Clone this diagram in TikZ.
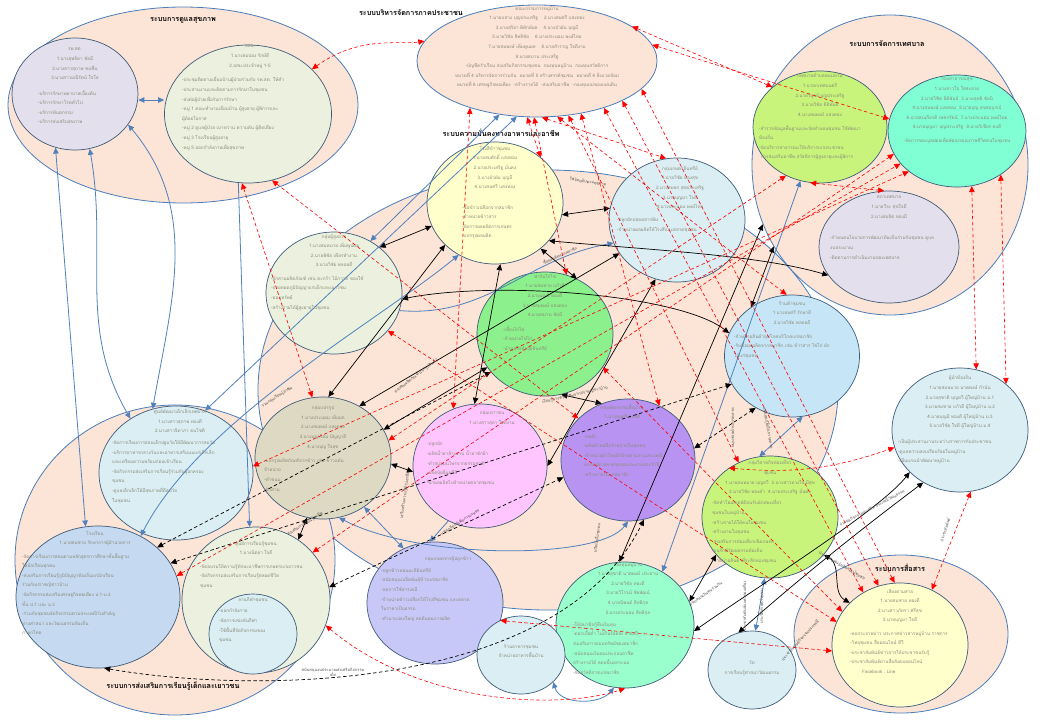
\documentclass[tikz,border=0pt]{standalone}
\usepackage{fontspec}
\newfontfamily\thai[Script=Thai]{Loma}
\usetikzlibrary{arrows.meta,shapes.geometric}
\definecolor{peach}{HTML}{FCE4D6}
\definecolor{sysline}{HTML}{4A7EBB}
\definecolor{cline}{HTML}{3E5C7A}
\definecolor{tgray}{HTML}{8A8A78}
\definecolor{blu}{HTML}{4F81BD}
\definecolor{cLav}{HTML}{E4DFEC}
\definecolor{cSage}{HTML}{EBF1DE}
\definecolor{cYel}{HTML}{FFFFCC}
\definecolor{cSky}{HTML}{DAEEF3}
\definecolor{cGreen}{HTML}{8CF08C}
\definecolor{cSky2}{HTML}{C6E6F8}
\definecolor{cTaupe}{HTML}{DDD9C3}
\definecolor{cPink}{HTML}{FFC5FF}
\definecolor{cPurp}{HTML}{B993F2}
\definecolor{cLime}{HTML}{C8F47C}
\definecolor{cPeri}{HTML}{C8C8F8}
\definecolor{cAqua}{HTML}{99FFCC}
\definecolor{cAqua2}{HTML}{80FFD4}
\definecolor{cBlue}{HTML}{C5D9F1}
\tikzset{
  sys/.style={ellipse, draw=sysline, fill=peach, line width=0.8pt, inner sep=0pt},
  circ/.style={ellipse, draw=cline, line width=0.7pt, inner sep=0pt},
  body/.style={font=\thai\fontsize{4.6}{9.6}\selectfont, text=tgray, inner sep=0pt},
  ttl/.style={font=\thai\bfseries\fontsize{7.2}{9}\selectfont, text=black, inner sep=0pt},
  lab/.style={font=\thai\fontsize{4}{5.2}\selectfont, text=black!70, inner sep=0.3pt, align=center},
  rd/.style={red, dash pattern=on 3.5pt off 2.5pt, line width=0.6pt, <->},
  bk/.style={black, line width=0.7pt, <->},
  bkd/.style={black, dash pattern=on 3.5pt off 2.5pt, line width=0.7pt, <->},
  bl/.style={blu, line width=0.8pt, <->},
}
\begin{document}
\begin{tikzpicture}[x=1pt,y=-1pt,>={Triangle[length=6pt,width=5.5pt]}]
\useasboundingbox (0,0) rectangle (1040,720);
\fill[white] (0,0) rectangle (1040,720);

% ---------- systems ----------
\node[sys, minimum width=580, minimum height=440] (SF) at (548,390) {};
\node[sys, minimum width=320, minimum height=310] (SL) at (175,560) {};
\node[sys, minimum width=350, minimum height=196] (SH) at (183,105) {};
\node[sys, minimum width=276, minimum height=300] (SM) at (890,165) {};
\node[sys, minimum width=240, minimum height=112] (SP) at (537,61) {};
\node[sys, minimum width=214, minimum height=158] (SC) at (901,634) {};

\node[ttl] (tSH) at (183,20) {ระบบการดูแลสุขภาพ};
\node[ttl] (tSP) at (411,13) {ระบบบริหารจัดการภาคประชาชน};
\node[ttl] (tSM) at (887,44) {ระบบการจัดการเทศบาล};
\node[ttl] (tSF) at (501,133) {ระบบความมั่นคงทางอาหารและอาชีพ};
\node[ttl] (tSC) at (900,568) {ระบบการสื่อสาร};
\node[ttl] (tSL) at (173,686) {ระบบการส่งเสริมการเรียนรู้เด็กและเยาวชน};

% ---------- circles ----------
\node[circ, fill=cLav,   minimum width=126, minimum height=112] (H1) at (75,94) {};
\node[circ, fill=cSage,  minimum width=167, minimum height=138] (H2) at (248,114) {};
\node[circ, fill=cLime,  minimum width=134, minimum height=112] (M1) at (820,127) {};
\node[circ, fill=cAqua2, minimum width=138, minimum height=112] (M2) at (957,131) {};
\node[circ, fill=cLav,   minimum width=140, minimum height=112] (M3) at (889,247) {};
\node[circ, fill=cYel,   minimum width=136, minimum height=122] (F1) at (495,203) {};
\node[circ, fill=cSky,   minimum width=136, minimum height=124] (F2) at (677,220) {};
\node[circ, fill=cSage,  minimum width=136, minimum height=122] (F3) at (334,293) {};
\node[circ, fill=cGreen, minimum width=136, minimum height=124] (F4) at (545,334) {};
\node[circ, fill=cSky2,  minimum width=135, minimum height=122] (F5) at (792,356) {};
\node[circ, fill=cTaupe, minimum width=136, minimum height=122] (F6) at (323,458) {};
\node[circ, fill=cPink,  minimum width=134, minimum height=124] (F7) at (480,466) {};
\node[circ, fill=cPurp,  minimum width=134, minimum height=122] (F8) at (628,460) {};
\node[circ, fill=cLime,  minimum width=136, minimum height=122] (F9) at (770,517) {};
\node[circ, fill=cPeri,  minimum width=136, minimum height=122] (F10) at (435,603) {};
\node[circ, fill=cAqua,  minimum width=138, minimum height=126] (F11) at (625,625) {};
\node[circ, fill=cSky,   minimum width=88,  minimum height=78]  (F12) at (521,655) {};
\node[circ, fill=cSky,   minimum width=88,  minimum height=78]  (F13) at (752,670) {};
\node[circ, fill=cSky,   minimum width=136, minimum height=124] (R1) at (960,430) {};
\node[circ, fill=cYel,   minimum width=136, minimum height=124] (C1) at (900,645) {};
\node[circ, fill=cSky,   minimum width=154, minimum height=134] (L1) at (176,473) {};
\node[circ, fill=cBlue,  minimum width=164, minimum height=142] (L2) at (98,597) {};
\node[circ, fill=cSage,  minimum width=148, minimum height=146] (L3) at (256,600) {};
\node[circ, fill=cSky,   minimum width=88,  minimum height=80]  (L4) at (253,634) {};

% ---------- texts ----------
\node[body, align=center, anchor=north] (H1a) at (75,48) {รพ.สต.\\1.นางสุทธิดา ชัยมี\\2.นางสาวสุภาพ ชมชื่น\\3.นางสาวมณีรัตน์ ใจใส};
\node[body, align=left, anchor=north west] (H1b) at (38,90) {-บริการรักษาพยาบาลเบื้องต้น\\-บริการรักษาโรคทั่วไป\\-บริการทันตกรรม\\-บริการส่งเสริมสุขภาพ};
\node[body, align=center, anchor=north] (H2a) at (250,45) {อสม.\\1.นางสมปอง รักษ์ดี\\2.อสม.ประจำหมู่ 1-5};
\node[body, align=left, anchor=north west] (H2b) at (182,77) {-ประชุมติดตามเยี่ยมบ้านผู้ป่วยร่วมกับ รพ.สต. ให้คำ\\-ประสานงานและติดตามการรักษาในชุมชน\\-ส่งต่อผู้ป่วยเพื่อรับการรักษา\\-หมู่ 1 คณะทำงานเยี่ยมบ้าน ผู้สูงอายุ ผู้พิการและ\\ผู้ด้อยโอกาส\\-หมู่ 2 ดูแลผู้ป่วย เบาหวาน ความดัน ผู้ติดเตียง\\-หมู่ 3 โรงเรียนผู้สูงอายุ\\-หมู่ 5 ออกกำลังกายเพื่อสุขภาพ};
\node[body, align=center, anchor=north] (SPa) at (537,6) {คณะกรรมการหมู่บ้าน\\1.นายแสวง บุญประเสริฐ \quad 2.นางสมศรี แสงทอง\\3.นายสุริยา พิทักษ์ผล \quad 4.นางบัวผัน บุญมี\\5.นายวิชัย สิทธิชัย \quad 6.นางประนอม พงษ์ไทย\\7.นายสมพงษ์ เพิ่มพูนผล \quad 8.นายสำราญ ใจดีงาม\\9.นายสมาน ประเสริฐ\\-บัญชีครัวเรือน ส่งเสริมกิจกรรมชุมชน \ กองทุนหมู่บ้าน \ กองทุนสวัสดิการ\\หมวดที่ 4 บริหารจัดการร่วมกัน \ หมวดที่ 5 สร้างสรรค์ชุมชน \ หมวดที่ 6 สิ่งแวดล้อม\\หมวดที่ 6 เศรษฐกิจพอเพียง \ -สร้างรายได้ \ -ส่งเสริมอาชีพ \ -กองทุนแม่ของแผ่นดิน};
\node[body, align=center, anchor=north] (M1a) at (820,74) {เทศบาลตำบลพนมทวน\\1.นายกเทศมนตรี\\2.นายวิบูลย์ บุญประเสริฐ\\3.นายวิชัย ธิติพันธ์\\4.นางสมพงษ์ แสงทอง};
\node[body, align=left, anchor=north west] (M1b) at (759,125) {-สำรวจข้อมูลพื้นฐานและจัดทำแผนชุมชน ใช้พัฒนา\\ท้องถิ่น\\-จัดบริการสาธารณะให้บริการแก่ประชาชน\\ \ การส่งเสริมอาชีพ สวัสดิการผู้สูงอายุและผู้พิการ};
\node[body, align=center, anchor=north] (M2a) at (957,78) {กองสาธารณสุข\\1.นางสาวใจ ใสสะอาด\\2.นายวิชิต ธิติพันธ์ \ 3.นายสุทธิ ชัยนิ\\4.นางสมพงษ์ แสงทอง \ 5.นายบุญ สุขสมบูรณ์\\6.นายสมเกียรติ เพชรรัตน์ \ 7.นางประนอม พงษ์ไทย\\8.นายบุญมา บุญประเสริฐ \ 9.นายวิเชียร คงดี\\[4pt]-จัดการขยะมูลฝอยเพื่อพัฒนาคุณภาพชีวิตคนในชุมชน};
\node[body, align=center, anchor=north] (M3a) at (889,196) {สภาเทศบาล\\1.นายวีระ สุขใจดี\\2.นางสมจิต ทองมี};
\node[body, align=left, anchor=north west] (M3b) at (830,235) {-กำหนดนโยบายการพัฒนาท้องถิ่นร่วมกับชุมชน ดูแล\\งบประมาณ\\-ติดตามการดำเนินงานของเทศบาล};
\node[body, align=center, anchor=north] (F1a) at (495,146) {โรงสีข้าวชุมชน\\1.นายสมศักดิ์ แสงทอง\\2.นายประเสริฐ มั่นคง\\3.นางบัวผัน บุญมี\\4.นางสมศรี แสงทอง};
\node[body, align=left, anchor=north west] (F1b) at (462,204) {-ซื้อข้าวเปลือกจากสมาชิก\\-จำหน่ายข้าวสาร\\-จัดการผลผลิตการเกษตร\\-แปรรูปผลผลิต};
\node[body, align=center, anchor=north] (F2a) at (680,166) {กลุ่มเกษตรอินทรีย์\\1.นายวิชัย ทองสุข\\2.นางสมพร สุขประเสริฐ\\3.นายบุญมา ใจดี\\4.นางประนอม พงษ์ไทย};
\node[body, align=left, anchor=north west] (F2b) at (617,218) {-ปลูกผักปลอดสารพิษ\\-จำหน่ายผลผลิตให้โรงสีและตลาดชุมชน};
\node[body, align=center, anchor=north] (F3a) at (334,234) {กลุ่มผู้สูงอายุ\\1.นางสมหมาย เพิ่มพูนผล\\2.นายพิชัย เพียรทำงาน\\3.นายวิชัย พลอยดี};
\node[body, align=left, anchor=north west] (F3b) at (271,276) {-จักสานผลิตภัณฑ์ เช่น ตะกร้า ไม้กวาด ของใช้\\-ถ่ายทอดภูมิปัญญาแก่เด็กและเยาวชน\\-ออมทรัพย์\\-สร้างรายได้ผู้สูงอายุในชุมชน};
\node[body, align=center, anchor=north] (F4a) at (545,274) {ฟาร์มไก่ไข่\\1.นายสมชาย แก้วดี\\2.นางบุญมี ทองดี\\3.นางสมพงษ์ แสงทอง\\4.นายสมาน ชัยมี};
\node[body, align=left, anchor=north west] (F4b) at (503,326) {-เลี้ยงไก่ไข่\\-จำหน่ายไข่ไก่\\-นำมูลไก่ทำปุ๋ยอินทรีย์};
\node[body, align=center, anchor=north] (F5a) at (792,301) {ร้านค้าชุมชน\\1.นางสมศรี รักษาดี\\2.นายวิชัย พลอยดี};
\node[body, align=left, anchor=north west] (F5b) at (734,334) {-จำหน่ายสินค้าอุปโภคบริโภคแก่สมาชิก\\-รับซื้อผลผลิตจากสมาชิก เช่น ข้าวสาร ไข่ไก่ ผัก\\ให้แก่ชุมชน};
\node[body, align=center, anchor=north] (F6a) at (323,406) {กลุ่มแปรรูป\\1.นางประนอม เพิ่มผล\\2.นางสมพงษ์ แสงทอง\\3.นางบุญเรือน ปัญญาดี\\4.นางบุญ ใจสุข};
\node[body, align=left, anchor=north west] (F6b) at (264,458) {-แปรรูปผลิตภัณฑ์จากข้าว เช่น ข้าวแต๋น\\จำหน่าย\\-ทำขนม\\-จักสาน};
\node[body, align=center, anchor=north] (F7a) at (492,411) {กลุ่มเยาวชน\\1.นางสาวสุดา ใจดีงาม};
\node[body, align=left, anchor=north west] (F7b) at (427,442) {-ปลูกผัก\\-ผลิตน้ำยาล้างจาน น้ำยาซักผ้า\\-ทำสบู่สมุนไพรจากธรรมชาติ\\-ผลิตปุ๋ยอินทรีย์\\-นำผลผลิตไปจำหน่ายตลาดชุมชน};
\node[body, align=center, anchor=north] (F8a) at (622,404) {กลุ่มหัตถกรรมพื้นบ้าน\\1.นางสมศรี แสงดี};
\node[body, align=left, anchor=north west] (F8b) at (584,434) {-ทอผ้า\\-ผลิตผ้าทอมือจำหน่ายในชุมชน\\-จำหน่ายผ้าไหมผ้าฝ้ายตามงานประเพณี\\ตลาดนัด ตลาดชุมชนและงานประจำปี\\-สร้างรายได้แก่สมาชิก};
\node[body, align=center, anchor=north] (F9a) at (770,460) {กลุ่มวิสาหกิจท่องเที่ยว\\ชุมชน\\1.นายสมหมาย บุญทวี \ 2.นางสาวดวงใจ มีสุข\\3.นายวิชัย ทองคำ \ 4.นายประเสริฐ มั่นคง};
\node[body, align=left, anchor=north west] (F9b) at (712,500) {-จัดทำโฮมสเตย์ต้อนรับนักท่องเที่ยว\\ชุมชนในหมู่บ้าน\\-สร้างรายได้ให้คนในชุมชน\\-สร้างงานในชุมชน\\-ส่งเสริมการท่องเที่ยวเชิงเกษตร\\-อนุรักษ์วัฒนธรรมท้องถิ่น\\-จำหน่ายสินค้าที่ระลึกของชุมชน};
\node[body, align=center, anchor=north] (F10a) at (448,556) {กลุ่มเกษตรกรผู้ปลูกข้าว};
\node[body, align=left, anchor=north west] (F10b) at (381,568) {-ปลูกข้าวหอมมะลิอินทรีย์\\-สนับสนุนเมล็ดพันธุ์ข้าวแก่สมาชิก\\-ลดการใช้สารเคมี\\-จำหน่ายข้าวเปลือกให้โรงสีชุมชน และตลาด\\ในราคาเป็นธรรม\\-ทำนาแปลงใหญ่ ลดต้นทุนการผลิต};
\node[body, align=center, anchor=north] (F11a) at (628,562) {กองทุนหมู่บ้าน\\1.นายสุชาติ นาคพงษ์ ประธาน\\2.นายวิชัย ทองดี\\3.นายวิโรจน์ ชัยพัฒน์\\4.นายนิพนธ์ สิทธิกุล\\5.นางประนอม สิทธิกุล};
\node[body, align=left, anchor=north west] (F11b) at (573,622) {-ให้สมาชิกกู้ยืมเงินทุน\\-ดอกเบี้ยต่ำ ไม่เกินร้อยละ 6 ต่อปี\\ส่งเสริมการออมทรัพย์ของสมาชิก\\-สนับสนุนเงินทุนประกอบอาชีพ\\สร้างรายได้ ลดหนี้นอกระบบ\\-จัดสวัสดิการแก่สมาชิก};
\node[body, align=center] (F12a) at (521,651) {ร้านอาหารชุมชน\\จำหน่ายอาหารพื้นบ้าน};
\node[body, align=center] (F13a) at (752,668) {วัด\\การเรียนรู้ศาสนาวัฒนธรรม};
\node[body, align=center, anchor=north] (R1a) at (960,375) {ผู้นำท้องถิ่น\\1.นายสมหมาย นาคพงษ์ กำนัน\\2.นายสุชาติ บุญทวี ผู้ใหญ่บ้าน ม.1\\3.นายสมชาย แก้วดี ผู้ใหญ่บ้าน ม.2\\4.นายบุญมี ทองดี ผู้ใหญ่บ้าน ม.3\\5.นายวิชัย ใจดี ผู้ใหญ่บ้าน ม.4};
\node[body, align=left, anchor=north west] (R1b) at (898,439) {-เป็นผู้ประสานงานระหว่างราชการกับประชาชน\\-ดูแลความสงบเรียบร้อยในหมู่บ้าน\\-เป็นแกนนำพัฒนาหมู่บ้าน};
\node[body, align=center, anchor=north] (C1a) at (900,589) {เสียงตามสาย\\1.นายสมชาย ทองดี\\2.นางสาวภัทรา ศรีสุข\\3.นายบุญมา ใจดี};
\node[body, align=left, anchor=north west] (C1b) at (850,631) {-หอกระจายข่าว ประกาศข่าวสารหมู่บ้าน ราชการ\\-วิทยุชุมชน สื่อออนไลน์ ทีวี\\-ประชาสัมพันธ์ข่าวสารให้ประชาชนรับรู้\\-ประชาสัมพันธ์ผ่านสื่อสังคมออนไลน์\\\hspace*{12pt}Facebook , Line};
\node[body, align=center, anchor=north] (L1a) at (180,409) {ศูนย์พัฒนาเด็กเล็กเทศบาล\\1.นางสาวสุภาพ ทองดี\\2.นางสาวจิดาภา ธนโชติ};
\node[body, align=left, anchor=north west] (L1b) at (112,440) {-จัดการเรียนการสอนเด็กปฐมวัยให้มีพัฒนาการสมวัย\\-บริการอาหารกลางวันและอาหารเสริมนมแก่เด็กเล็ก\\และเตรียมความพร้อมก่อนเข้าเรียน\\-จัดกิจกรรมส่งเสริมการเรียนรู้ร่วมกับผู้ปกครอง\\ชุมชน\\-ดูแลเด็กเล็กให้มีสุขภาพที่ดีสมวัย\\ในชุมชน};
\node[body, align=center, anchor=north] (L2a) at (95,531) {โรงเรียน\\1.นายสมชาย รักษาการผู้อำนวยการ};
\node[body, align=left, anchor=north west] (L2b) at (22,553) {-จัดการเรียนการสอนตามหลักสูตรการศึกษาขั้นพื้นฐาน\\ให้นักเรียนทุกคน\\-ส่งเสริมการเรียนรู้ภูมิปัญญาท้องถิ่นแก่นักเรียน\\ร่วมกับปราชญ์ชาวบ้าน\\-จัดกิจกรรมส่งเสริมเศรษฐกิจพอเพียง ป.1-ม.3\\ชั้น ป.1 และ ม.3\\-ร่วมกับชุมชนจัดกิจกรรมตามประเพณีวันสำคัญ\\ทางศาสนา และวัฒนธรรมท้องถิ่น\\ภาษาไทย};
\node[body, align=center, anchor=north] (L3a) at (256,541) {ศูนย์การเรียนรู้ชุมชน\\1.นางนิตยา ใจดี};
\node[body, align=left, anchor=north west] (L3b) at (200,564) {-จัดอบรมให้ความรู้ทักษะอาชีพการเกษตรแก่เยาวชน\\-จัดกิจกรรมส่งเสริมการเรียนรู้ตลอดชีวิต\\ชุมชน};
\node[body, align=center, anchor=north] (L4a) at (253,597) {ลานกีฬาชุมชน};
\node[body, align=left, anchor=north west] (L4b) at (219,609) {-ออกกำลังกาย\\-จัดการแข่งขันกีฬา\\-ใช้พื้นที่จัดกิจกรรมของ\\ชุมชน};

% ---------- blue connectors ----------
\draw[bl] ([yshift=-6pt]H1.east) -- ([yshift=14pt]H2.west);
\draw[bl] (H1.250) -- (L2.100);
\draw[bl] (H1.285) to[out=-80,in=120] (L1.130);
\draw[bl] (H1.-30) to[out=-50,in=80] (L1.110);
\draw[bl,-> ] (H2.262) -- (L3.95);
\draw[bl] (L2.55) .. controls (200,420) and (380,320) .. (F1.235);
\draw[bl] (SP.235) -- (F3.55);
\draw[bl] (SP.250) -- (L1.65);
\draw[bl,->] (F3.-15) to[out=-5,in=190] (F2.200);
\draw[bl] (F9.100) -- (F5.-80);
\draw[bl] (F9.-95) -- (F13.85);
\draw[bl] (F12.-40) .. controls (560,705) and (600,705) .. (F11.-100);
\draw[bl] (F6.-50) -- (F10.120);
\draw[bl,->] (F7.240) -- (F10.95);
\draw[bl] (F6.-75) .. controls (420,560) and (600,560) .. (F8.-90);
\draw[bl] (M1.250) -- (F11.55);

% ---------- black connectors ----------
\draw[bk] (F1.-10) -- (F2.170);
\draw[bk] (F1.-35) .. controls (650,250) and (760,255) .. (M3.205);
\draw[bk] (F3.-5) .. controls (500,280) and (680,295) .. (F5.160);
\draw[bk] (F3.45) -- (F1.200);
\draw[bk] (F6.85) -- (F1.220);
\draw[bk] (F6.55) -- (F2.210);
\draw[bk] (F6.25) -- (F4.210);
\draw[bk] (F6.-5) -- (F7.185);
\draw[bk] (F1.-85) -- (F7.95);
\draw[bk] (F1.-45) -- (F4.60);
\draw[bk] (F4.-75) -- (F8.115);
\draw[bk] (F7.0) -- (F2.-110);
\draw[bk] (L3.55) -- (F6.-105);
\draw[bk] (F9.-35) to[out=-30,in=150] (C1.140);
\draw[bk] (F13.110) .. controls (820,560) and (900,500) .. (R1.-125);
\draw[bk] (F11.-5) .. controls (760,585) and (880,510) .. (R1.-140);
\draw[bk] (F11.20) -- (F9.215);
\draw[bk] (F11.95) -- (SM.205);
\draw[bk] (F5.130) -- (SM.215);

% ---------- black dashed ----------
\draw[bkd] (L2.-85) .. controls (260,695) and (560,690) .. (F8.-75);
\draw[bkd] (L2.25) -- (F5.205);
\draw[bkd] (L2.40) -- (F4.215);
\draw[bkd] (L3.10) -- (F8.195);
\draw[bkd] (F8.10) -- (F5.235);

% ---------- red dashed ----------
\draw[rd] (H2.35) .. controls (360,35) and (400,45) .. (SP.170);
\draw[rd] (H2.-95) -- (F6.100);
\draw[rd] (H2.-70) -- (F8.140);
\draw[rd] (SP.215) -- (F7.115);
\draw[rd] (SP.-100) -- (F1.45);
\draw[rd] (SP.-93) -- (F4.70);
\draw[rd] (SP.-85) -- (F2.100);
\draw[rd] (SP.-70) -- (F5.95);
\draw[rd] (SP.-60) -- (F9.120);
\draw[rd] (SP.-50) -- (F8.60);
\draw[rd] (SP.-35) -- (C1.125);
\draw[rd] (SP.-25) -- (C1.110);
\draw[rd] (SP.-15) -- (C1.95);
\draw[rd] (SP.20) -- (M1.140);
\draw[rd] (SP.8) -- (M2.170);
\draw[rd] (M1.-100) -- (M3.95);
\draw[rd] (L1.5) -- (M2.220);
\draw[rd] (L2.15) -- (M2.210);
\draw[rd] (L3.40) -- (M2.200);
\draw[rd] (M1.235) -- (F6.15);
\draw[rd] (M2.-75) -- (R1.75);
\draw[rd] (M2.-45) -- (R1.45);
\draw[rd] (R1.-80) -- (C1.60);
\draw[rd] (F9.130) to[bend right=12] (R1.195);
\draw[rd] (F4.-30) -- (C1.150);
\draw[rd] (F3.-35) -- (C1.160);
\draw[rd] (F10.-15) -- (C1.185);
\draw[rd] (L3.-20) .. controls (420,705) and (560,710) .. (F11.-90);

% ---------- connector labels ----------
\node[lab, rotate=-8] (lb1) at (588,182) {ให้วัตถุดิบตามฤดูกาล};
\node[lab, rotate=25] (lb2) at (560,255) {ซื้อผลผลิตจากสมาชิก};
\node[lab, rotate=38] (lb3) at (416,376) {ส่งเสริมผลิตภัณฑ์ แปรรูปสินค้า};
\node[lab, rotate=32] (lb4) at (277,397) {รวมกลุ่มเรียนรู้อาชีพ};
\node[lab, rotate=13] (lb5) at (575,395) {เรียนรู้การทำอาชีพจากปราชญ์ชาวบ้าน};
\node[lab, rotate=82] (lb6) at (405,495) {เสริมสร้างความรู้ด้านอาชีพ};
\node[lab, rotate=90] (lb7) at (733,428) {หนุนช่วยด้านการตลาด};
\node[lab, rotate=-80] (lb8) at (768,428) {หนุนทุนกู้ยืมในการตลาด};
\node[lab, rotate=90] (lb9) at (744,606) {ประชาสัมพันธ์แหล่งท่องเที่ยว};
\node[lab, rotate=90] (lb10) at (762,606) {ประวัติศาสตร์ชุมชน};
\node[lab, rotate=72] (lb11) at (945,530) {ประชาสัมพันธ์};
\node[lab, rotate=28] (lb12) at (872,508) {ร่วมจัดกิจกรรมส่งเสริม ประเพณีวัฒนธรรม};
\node[lab, rotate=-30] (lb13) at (842,566) {ประชาสัมพันธ์ผลิตภัณฑ์ชุมชน};
\node[lab, rotate=48] (lb14) at (800,640) {ประชาสัมพันธ์กิจกรรมประเพณี};
\node[lab] (lb15) at (333,672) {สนับสนุนงบประมาณส่งเสริมกิจกรรม\\เด็ก};
\node[lab, rotate=32] (lb16) at (305,524) {ส่งเสริมการเรียนรู้อาชีพ};
\node[lab, rotate=82] (lb17) at (597,538) {ผลิตน้ำดื่มชุมชน};
\node[lab, rotate=35] (lb18) at (706,594) {สนับสนุนเงินทุนร่วมกัน};
\node[lab, rotate=32] (lb19) at (460,522) {แหล่งเรียนรู้เพื่อการเกษตร};
\end{tikzpicture}
\end{document}
